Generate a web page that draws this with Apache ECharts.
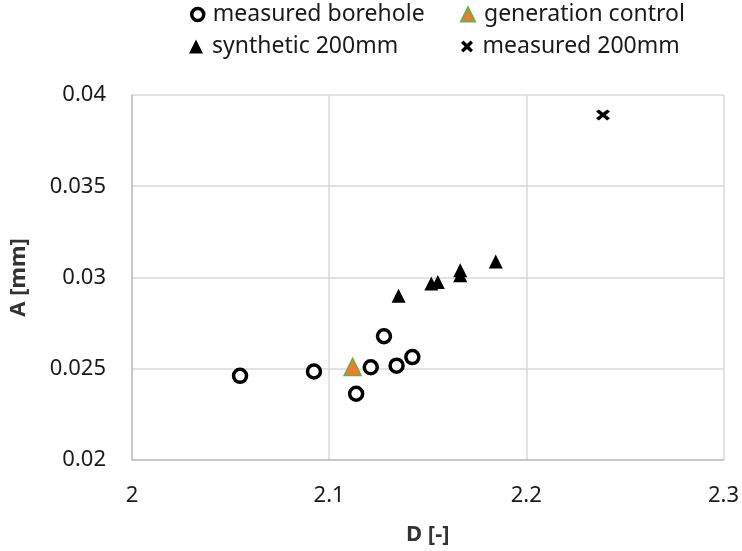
<!DOCTYPE html>
<html>
<head>
<meta charset="utf-8">
<style>
  html, body { margin: 0; padding: 0; background: #fff; }
  #chart { width: 742px; height: 551px; }
</style>
<script src="https://cdn.jsdelivr.net/npm/echarts@6/dist/echarts.min.js"></script>
</head>
<body>
<div id="chart"></div>
<script>
// Fractal dimension D versus amplitude A for each data set
const boreholeD = [2.0548, 2.0923, 2.1137, 2.1211, 2.1278, 2.1342, 2.1422];
const boreholeA = [0.02461, 0.02485, 0.02363, 0.02508, 0.02678, 0.02517, 0.02564];

const controlD = [2.1119];
const controlA = [0.0251];

const syntheticD = [2.1352, 2.1518, 2.1551, 2.1665, 2.1665, 2.1845];
const syntheticA = [0.0290, 0.02967, 0.02976, 0.0304, 0.03012, 0.03088];

const measured200D = [2.2389];
const measured200A = [0.03891];

const xTicks = [2, 2.1, 2.2, 2.3];
const yTicks = [0.02, 0.025, 0.03, 0.035, 0.04];

const pairs = (xs, ys) => xs.map((x, i) => [x, ys[i]]);

const FONT = 'Noto Sans';
const crossPath = 'path://M2,0 L5,3 L8,0 L10,2 L7,5 L10,8 L8,10 L5,7 L2,10 L0,8 L3,5 L0,2 Z';

const legendBase = {
  orient: 'horizontal',
  padding: 0,
  itemWidth: 14,
  itemHeight: 14,
  textStyle: { fontFamily: FONT, fontSize: 23, color: '#1a1a1a', padding: [0, 0, 0, 4] },
  selectedMode: false
};

const chart = echarts.init(document.getElementById('chart'), null, { renderer: 'canvas' });
chart.setOption({
  animation: false,
  backgroundColor: '#ffffff',
  grid: { left: 128, right: 18, top: 95, bottom: 89, containLabel: false },
  legend: [
    Object.assign({}, legendBase, {
      data: [{ name: 'measured borehole', itemStyle: { borderWidth: 3.5 } }],
      itemWidth: 12, itemHeight: 12, left: 190, top: 3
    }),
    Object.assign({}, legendBase, { data: ['generation control'], left: 460, top: 3 }),
    Object.assign({}, legendBase, { data: ['synthetic 200mm'], left: 189, top: 35 }),
    Object.assign({}, legendBase, {
      data: ['measured 200mm'], itemWidth: 13, itemHeight: 12, left: 461, top: 35
    })
  ],
  xAxis: {
    type: 'value',
    min: xTicks[0],
    max: xTicks[xTicks.length - 1],
    interval: 0.1,
    name: 'D [-]',
    nameLocation: 'middle',
    nameGap: 64,
    nameTextStyle: { fontFamily: FONT, fontSize: 22, fontWeight: 'bold', color: '#333333' },
    axisLine: { show: true, lineStyle: { color: '#bfbfbf', width: 1.5 } },
    axisTick: { show: false },
    splitLine: { show: true, lineStyle: { color: '#d9d9d9', width: 1.5 } },
    axisLabel: {
      fontFamily: FONT, fontSize: 22, color: '#1a1a1a', margin: 25,
      formatter: v => String(xTicks.find(t => Math.abs(t - v) < 1e-9) ?? +v.toFixed(1))
    }
  },
  yAxis: {
    type: 'value',
    min: yTicks[0],
    max: yTicks[yTicks.length - 1],
    interval: 0.005,
    name: 'A [mm]',
    nameLocation: 'middle',
    nameRotate: 90,
    nameGap: 102,
    nameTextStyle: { fontFamily: FONT, fontSize: 22, fontWeight: 'bold', color: '#333333' },
    axisLine: { show: true, lineStyle: { color: '#bfbfbf', width: 1.5 } },
    axisTick: { show: false },
    splitLine: { show: true, lineStyle: { color: '#d9d9d9', width: 1.5 } },
    axisLabel: {
      fontFamily: FONT, fontSize: 22, color: '#1a1a1a', margin: 26,
      formatter: v => String(yTicks.find(t => Math.abs(t - v) < 1e-9) ?? +v.toFixed(3))
    }
  },
  series: [
    {
      name: 'measured borehole',
      type: 'scatter',
      data: pairs(boreholeD, boreholeA),
      symbol: 'circle',
      symbolSize: 13,
      itemStyle: { color: '#ffffff', borderColor: '#000000', borderWidth: 3.5, opacity: 1 },
      z: 3
    },
    {
      name: 'generation control',
      type: 'scatter',
      data: pairs(controlD, controlA),
      symbol: 'triangle',
      symbolSize: 17,
      itemStyle: { color: '#ED7D31', borderColor: '#70AD47', borderWidth: 1.5, opacity: 1 },
      z: 4
    },
    {
      name: 'synthetic 200mm',
      type: 'scatter',
      data: pairs(syntheticD, syntheticA),
      symbol: 'triangle',
      symbolSize: 14,
      itemStyle: { color: '#000000', opacity: 1 },
      z: 3
    },
    {
      name: 'measured 200mm',
      type: 'scatter',
      data: pairs(measured200D, measured200A),
      symbol: crossPath,
      symbolSize: [14, 11],
      itemStyle: { color: '#000000', opacity: 1 },
      z: 3
    }
  ]
});
</script>
</body>
</html>
